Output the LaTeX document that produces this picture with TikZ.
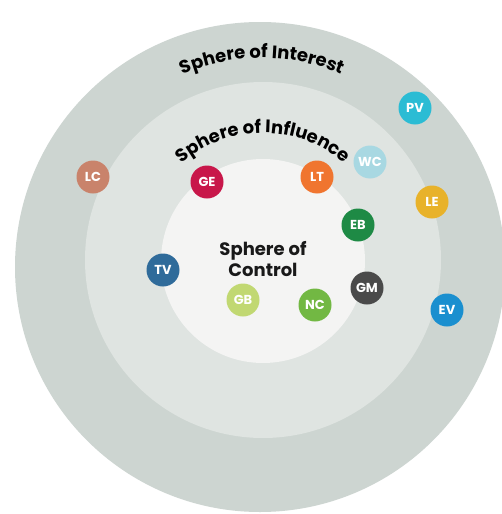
\documentclass[tikz,border=0pt]{standalone}
\usepackage{fontspec}
\setmainfont{Poppins}
\usetikzlibrary{decorations.text}
\definecolor{ringout}{HTML}{CDD5D1}
\definecolor{ringmid}{HTML}{DFE4E1}
\definecolor{ringin}{HTML}{F4F4F3}
\definecolor{cPV}{HTML}{2BBCD4}
\definecolor{cWC}{HTML}{A8D8E2}
\definecolor{cLC}{HTML}{C9836B}
\definecolor{cGE}{HTML}{C8174A}
\definecolor{cLT}{HTML}{F0752F}
\definecolor{cLE}{HTML}{E8B22A}
\definecolor{cEB}{HTML}{1E8A45}
\definecolor{cTV}{HTML}{2F6B9A}
\definecolor{cGM}{HTML}{4A4A4A}
\definecolor{cGB}{HTML}{C1D872}
\definecolor{cNC}{HTML}{72B843}
\definecolor{cEV}{HTML}{1A8FCF}
\tikzset{
  badge/.style={circle, minimum size=33pt, inner sep=0pt, text=white,
    font=\bfseries\fontsize{13}{13}\selectfont},
  title/.style={font=\bfseries\fontsize{18}{21}\selectfont, text=black!90, align=center}
}
\begin{document}
\begin{tikzpicture}[x=1pt,y=1pt]
  \useasboundingbox (0,0) rectangle (502,-514);
  \fill[white] (0,0) rectangle (502,-514);
  \begin{scope}
    \clip (0,0) rectangle (502,-514);
    % three nested spheres
    \fill[ringout] (260,-267) circle (245);
    \fill[ringmid] (263,-260) circle (178);
    \fill[ringin]  (263,-261) circle (102);
  \end{scope}
  % curved ring titles
  \path[decorate, decoration={text along path, text align=center,
      text={|\bfseries\fontsize{18}{18}\selectfont|Sphere of Interest}}]
    (262,-258) ++(130:200) arc (130:50:200);
  \path[decorate, decoration={text along path, text align=center,
      text={|\bfseries\fontsize{18}{18}\selectfont|Sphere of Influence}}]
    (263,-258) ++(150:125) arc (150:30:125);
  \node[title] (control) at (263,-259) {Sphere of\\Control};
  % members
  \node[badge, fill=cPV] (pv) at (415,-108) {PV};
  \node[badge, fill=cWC] (wc) at (370,-162) {WC};
  \node[badge, fill=cLC] (lc) at (93,-177) {LC};
  \node[badge, fill=cGE] (ge) at (207,-182) {GE};
  \node[badge, fill=cLT] (lt) at (317,-177) {LT};
  \node[badge, fill=cLE] (le) at (432,-202) {LE};
  \node[badge, fill=cEB] (eb) at (358,-225) {EB};
  \node[badge, fill=cTV] (tv) at (163,-270) {TV};
  \node[badge, fill=cGM] (gm) at (367,-288) {GM};
  \node[badge, fill=cGB] (gb) at (243,-300) {GB};
  \node[badge, fill=cNC] (nc) at (315,-305) {NC};
  \node[badge, fill=cEV] (ev) at (447,-310) {EV};
\end{tikzpicture}
\end{document}
